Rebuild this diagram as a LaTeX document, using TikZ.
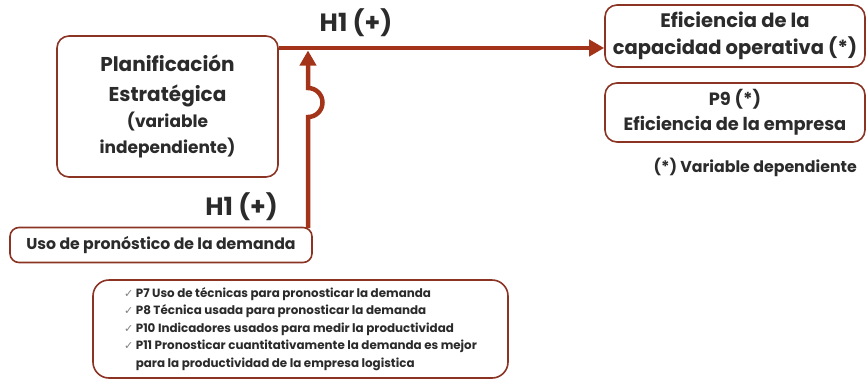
\documentclass[tikz,border=0pt]{standalone}
\usepackage{fontspec}
\setmainfont{Poppins}
\newfontfamily\symfont{DejaVu Sans}
\usetikzlibrary{arrows.meta}
\definecolor{boxred}{HTML}{8B3424}
\definecolor{arrred}{HTML}{A3341A}
\definecolor{txt}{HTML}{2B2B2B}
\newcommand{\chk}{\mbox{\symfont\mdseries\fontsize{11}{12}\selectfont\textcolor{gray}{✓}}}
\newcommand{\itemfs}{\fontsize{11.9}{17.6}\selectfont}
\tikzset{
  x=1pt,y=1pt,
  rbox/.style={draw=boxred, line width=1.6pt, rounded corners=12pt, fill=white, text=txt, align=center, inner sep=0pt},
  conn/.style={draw=arrred, line width=4.5pt},
  tip/.style={-{Triangle[length=15pt,width=16pt]}},
  lbl/.style={text=txt, font=\bfseries\fontsize{25}{28}\selectfont, inner sep=0pt}
}
\begin{document}
\begin{tikzpicture}
\useasboundingbox (0,0) rectangle (866,-380);
% boxes
\node[rbox, minimum width=221pt, minimum height=141pt, font=\bfseries\fontsize{17}{26}\selectfont] (plan) at (167.5,-106.5)
  {\fontsize{20}{30}\selectfont Planificación\\[4pt]
   \fontsize{20}{29}\selectfont Estratégica\\
   \fontsize{17}{26}\selectfont (variable\\
   \fontsize{17}{26}\selectfont independiente)};
\node[rbox, minimum width=260pt, minimum height=62pt, font=\bfseries\fontsize{19.5}{27}\selectfont] (efic) at (735,-36)
  {Eficiencia de la\\capacidad operativa (*)};
\node[rbox, minimum width=260pt, minimum height=59pt, font=\bfseries\fontsize{17.8}{25}\selectfont] (p9) at (735,-112.5)
  {P9 (*)\\Eficiencia de la empresa};
\node[text=txt, font=\bfseries\fontsize{15.8}{18}\selectfont, anchor=east, inner sep=0pt] (nota) at (857,-167) {(*) Variable dependiente};
\node[rbox, minimum width=302pt, minimum height=35pt, rounded corners=9pt, font=\bfseries\fontsize{15.7}{18}\selectfont] (uso) at (161,-245)
  {Uso de pronóstico de la demanda};
\node[rbox, minimum width=415pt, minimum height=98pt, rounded corners=16pt, align=left, font=\bfseries\itemfs] (items) at (300.5,-329)
  {\itemfs\chk{} P7 Uso de técnicas para pronosticar la demanda\\
   \itemfs\chk{} P8 Técnica usada para pronosticar la demanda\\
   \itemfs\chk{} P10 Indicadores usados para medir la productividad\\
   \itemfs\chk{} P11 Pronosticar cuantitativamente la demanda es mejor\\
   \itemfs\phantom{\chk{} }para la productividad de la empresa logistica};
% connectors
\coordinate (hstart) at (plan.east |- 0,-48);
\coordinate (hend) at (efic.west |- 0,-48);
\draw[conn, tip] (hstart) -- (hend);
\coordinate (vstart) at (308,-228);
\coordinate (vtop) at (308,-50.5);
\draw[conn, tip] (vstart) -- (308,-117) arc[start angle=-90, end angle=90, radius=14.5] -- (vtop);
% labels
\node[lbl] (h1a) at (356,-23) {H1 (+)};
\node[lbl, anchor=east] (h1b) at (278,-207) {H1 (+)};
\end{tikzpicture}
\end{document}
